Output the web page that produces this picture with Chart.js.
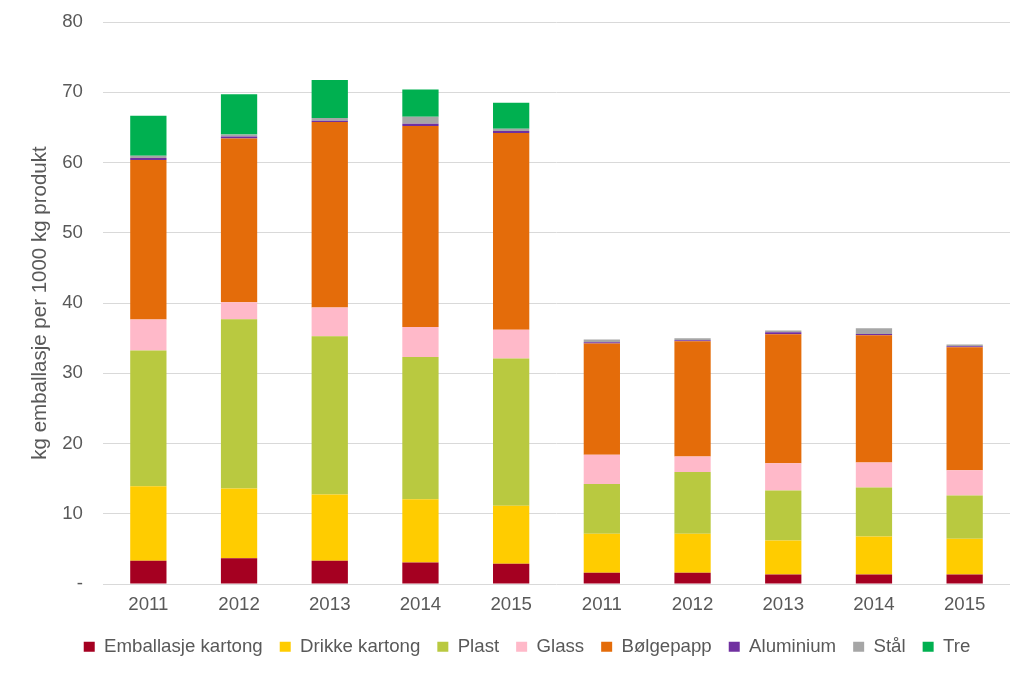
<!DOCTYPE html>
<html>
<head>
<meta charset="utf-8">
<script src="https://cdn.jsdelivr.net/npm/chart.js@4.4.1/dist/chart.umd.min.js"></script>
<style>
  html, body { margin: 0; padding: 0; background: #fff; }
  #wrap { width: 1033px; height: 675px; }
</style>
</head>
<body>
<div id="wrap"><canvas id="emballasje_chart"></canvas></div>
<script>
var years = ['2011', '2012', '2013', '2014', '2015', '2011', '2012', '2013', '2014', '2015'];

var emballasjeKartong = [3.3, 3.65, 3.3, 3.05, 2.9, 1.6, 1.6, 1.35, 1.35, 1.35];
var drikkeKartong = [10.6, 9.95, 9.45, 9.0, 8.25, 5.55, 5.55, 4.85, 5.4, 5.1];
var plast = [19.35, 24.1, 22.5, 20.25, 20.95, 7.1, 8.8, 7.1, 7.0, 6.15];
var glass = [4.4, 2.4, 4.1, 4.3, 4.1, 4.15, 2.2, 3.9, 3.55, 3.6];
var bolgepapp = [22.7, 23.3, 26.4, 28.6, 28.0, 15.85, 16.4, 18.35, 18.1, 17.5];
var aluminium = [0.3, 0.3, 0.2, 0.3, 0.3, 0.15, 0.15, 0.3, 0.2, 0.15];
var staal = [0.3, 0.3, 0.4, 1.0, 0.3, 0.4, 0.3, 0.25, 0.8, 0.25];
var tre = [5.7, 5.7, 5.4, 3.9, 3.7, 0, 0, 0, 0, 0];

var yTicks = [0, 10, 20, 30, 40, 50, 60, 70, 80];

var textColor = '#595959';
var fontFamily = '"Liberation Sans", Arial, sans-serif';

function ds(label, data, color) {
    return {
        label: label,
        data: data,
        backgroundColor: color,
        borderWidth: 0,
        barPercentage: 0.4,
        categoryPercentage: 1.0
    };
}

// legend sits a bit right of the canvas centre in the original
var legendShift = {
    id: 'legendShift',
    afterLayout: function(chart) {
        chart.legend.left += 22;
        chart.legend.right += 22;
    }
};

new Chart(document.getElementById('emballasje_chart'), {
    type: 'bar',
    data: {
        labels: years,
        datasets: [
            ds('Emballasje kartong', emballasjeKartong, '#A50021'),
            ds('Drikke kartong', drikkeKartong, '#FFCC00'),
            ds('Plast', plast, '#B9C940'),
            ds('Glass', glass, '#FFB9C9'),
            ds('Bølgepapp', bolgepapp, '#E46C0A'),
            ds('Aluminium', aluminium, '#7030A0'),
            ds('Stål', staal, '#A6A6A6'),
            ds('Tre', tre, '#00B050')
        ]
    },
    plugins: [legendShift],
    options: {
        responsive: true,
        maintainAspectRatio: false,
        animation: false,
        layout: {
            padding: { left: 0, right: 23, top: 22, bottom: 9 }
        },
        plugins: {
            tooltip: { enabled: false },
            legend: {
                position: 'bottom',
                labels: {
                    boxWidth: 11,
                    boxHeight: 10,
                    padding: 17,
                    color: textColor,
                    font: { family: fontFamily, size: 18.67 }
                }
            }
        },
        scales: {
            x: {
                stacked: true,
                grid: { display: false, drawTicks: false },
                border: { display: false },
                ticks: {
                    color: textColor,
                    padding: 10,
                    maxRotation: 0,
                    font: { family: fontFamily, size: 18.67 }
                },
                afterFit: function(scale) { scale.height = 36.33; }
            },
            y: {
                stacked: true,
                min: 0,
                max: 80,
                afterBuildTicks: function(scale) {
                    scale.ticks = yTicks.map(function(v) { return { value: v }; });
                },
                grid: {
                    color: '#D9D9D9',
                    lineWidth: 1,
                    drawTicks: false
                },
                border: { display: false },
                ticks: {
                    color: textColor,
                    padding: 20,
                    font: { family: fontFamily, size: 18.67 },
                    callback: function(value) {
                        return value === 0 ? '-' : value;
                    }
                },
                title: {
                    display: true,
                    text: 'kg emballasje per 1000 kg produkt',
                    color: textColor,
                    padding: { top: 28, bottom: 0 },
                    font: { family: fontFamily, size: 20.5 }
                },
                afterFit: function(scale) {
                    scale.width = 103;
                    scale.paddingTop = 10;
                    scale.paddingBottom = 10;
                }
            }
        }
    }
});
</script>
</body>
</html>
